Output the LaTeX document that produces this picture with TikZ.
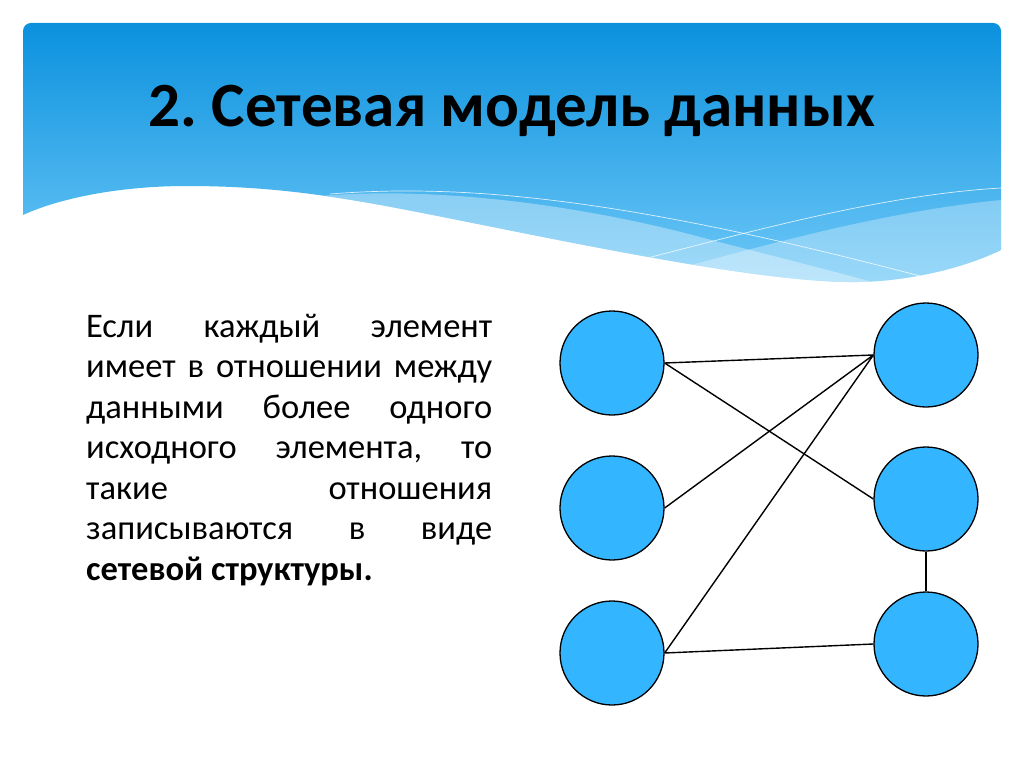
\documentclass[tikz,border=0pt]{standalone}
\usepackage{fontspec}
\setmainfont{Carlito}
\frenchspacing
\definecolor{hdtop}{RGB}{11,145,222}
\definecolor{hdbot}{RGB}{110,200,247}
\definecolor{nodeblue}{RGB}{51,181,255}
\begin{document}
\begin{tikzpicture}[x=1pt,y=1pt,
  netnode/.style={circle,draw=black,line width=1.3pt,fill=nodeblue,minimum size=104pt,inner sep=0pt},
  link/.style={draw=black,line width=1.4pt},
  bodyline/.style={anchor=base west,inner sep=0pt,font=\fontsize{34.5}{40.5}\selectfont},
  swoosh/.style={fill=white},
  thinline/.style={draw=white,line width=0.7pt,opacity=0.8}]
\useasboundingbox (0,0) rectangle (1024,-767);
\fill[white] (0,0) rectangle (1024,-767);
% header shape
\def\headerpath{[rounded corners=8pt] (23,-215) -- (23,-23) -- (1001,-23) [sharp corners] -- (1001,-250)
  .. controls (960,-270) and (900,-283) .. (847,-282)
  .. controls (720,-280) and (450,-215) .. (345,-199)
  .. controls (290,-190) and (240,-186) .. (187,-186)
  .. controls (120,-186) and (60,-198) .. (23,-215) -- cycle}
\shade[top color=hdtop,bottom color=hdbot] \headerpath;
\begin{scope}
  \clip \headerpath;
  \fill[swoosh,opacity=0.35] (320,-196) .. controls (450,-185) and (600,-210) .. (700,-237)
     .. controls (780,-258) and (850,-275) .. (900,-290) -- (900,-300) -- (320,-300) -- cycle;
  \fill[swoosh,opacity=0.3] (560,-300) .. controls (700,-265) and (850,-215) .. (1001,-200) -- (1001,-300) -- cycle;
  \draw[thinline] (330,-194) .. controls (480,-182) and (650,-205) .. (920,-276);
  \draw[thinline] (620,-265) .. controls (750,-232) and (880,-195) .. (1001,-188);
\end{scope}
% title
\node[anchor=base,inner sep=0pt,font=\fontsize{63}{75}\selectfont\bfseries] (title) at (512,-127) {2. Сетевая модель данных};
% body text
\node[bodyline] (t1) at (86,-337) {\makebox[406pt][s]{Если каждый элемент}};
\node[bodyline] (t2) at (86,-377.5) {\makebox[406pt][s]{имеет в отношении между}};
\node[bodyline] (t3) at (86,-418) {\makebox[406pt][s]{данными более одного}};
\node[bodyline] (t4) at (86,-458.5) {\makebox[406pt][s]{исходного элемента, то}};
\node[bodyline] (t5) at (86,-499) {\makebox[406pt][s]{такие отношения}};
\node[bodyline] (t6) at (86,-539.5) {\makebox[406pt][s]{записываются в виде}};
\node[bodyline] (t7) at (86,-580) {\textbf{сетевой структуры.}};
% network
\node[netnode] (L1) at (612,-363) {};
\node[netnode] (L2) at (612,-508) {};
\node[netnode] (L3) at (612,-653) {};
\node[netnode] (R1) at (926,-355) {};
\node[netnode] (R2) at (926,-499) {};
\node[netnode] (R3) at (926,-644) {};
\draw[link] (L1.east) -- (R1.west);
\draw[link] (L1.east) -- (R2.west);
\draw[link] (L2.east) -- (R1.west);
\draw[link] (L3.east) -- (R1.west);
\draw[link] (L3.east) -- (R3.west);
\draw[link] (R2.south) -- (R3.north);
\end{tikzpicture}
\end{document}
